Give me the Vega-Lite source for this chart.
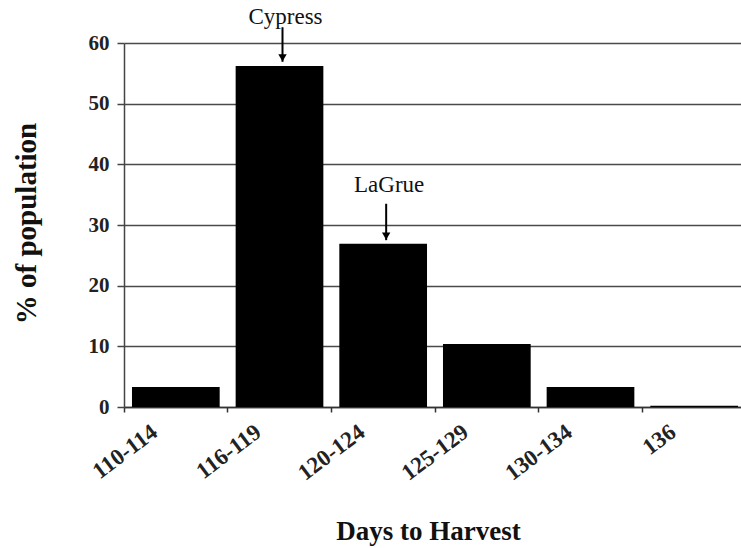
{
  "$schema": "https://vega.github.io/schema/vega-lite/v6.json",
  "width": 622,
  "height": 364,
  "autosize": {"type": "none"},
  "padding": {"left": 124, "top": 43, "right": -5, "bottom": 141},
  "background": "white",
  "config": {
    "view": {"stroke": null},
    "font": "Liberation Serif",
    "axis": {"labelFont": "Liberation Serif", "titleFont": "Liberation Serif"}
  },
  "datasets": {
    "bars": [
      {"days": "110-114", "pct": 3.3},
      {"days": "116-119", "pct": 56.2},
      {"days": "120-124", "pct": 26.9},
      {"days": "125-129", "pct": 10.4},
      {"days": "130-134", "pct": 3.3},
      {"days": "136", "pct": 0.2}
    ],
    "notes": [
      {"days": "116-119", "label": "Cypress", "labelAt": 63.1, "top": 62.6, "tip": 56.9},
      {"days": "120-124", "label": "LaGrue", "labelAt": 35.4, "top": 33.5, "tip": 27.5}
    ]
  },
  "encoding": {
    "x": {
      "field": "days",
      "type": "nominal",
      "scale": {
        "domain": ["110-114", "116-119", "120-124", "125-129", "130-134", "136"],
        "paddingInner": 0.154,
        "paddingOuter": 0.077
      },
      "axis": {
        "title": "Days to Harvest",
        "titleFontSize": 27,
        "titleFontWeight": "bold",
        "titleColor": "#111",
        "titleBaseline": "alphabetic",
        "titleY": 132,
        "titleX": 304,
        "labelAngle": -37,
        "labelAlign": "right",
        "labelBaseline": "middle",
        "labelFontSize": 23,
        "labelFontWeight": "bold",
        "labelColor": "#222",
        "labelOffset": -21,
        "labelPadding": 17,
        "bandPosition": -0.091,
        "tickColor": "#333",
        "tickSize": 5,
        "tickWidth": 1.5,
        "domainColor": "#333",
        "domainWidth": 1.5,
        "grid": false
      }
    }
  },
  "layer": [
    {
      "data": {"name": "bars"},
      "mark": {"type": "bar", "color": "black"},
      "encoding": {
        "y": {
          "field": "pct",
          "type": "quantitative",
          "scale": {"domain": [0, 60], "nice": false},
          "axis": {
            "title": "% of population",
            "titleFontSize": 29,
            "titleFontWeight": "bold",
            "titleColor": "#111",
            "titleBaseline": "alphabetic",
            "titleX": -89,
            "titleY": 180,
            "values": [0, 10, 20, 30, 40, 50, 60],
            "labelFontSize": 21,
            "labelFontWeight": "bold",
            "labelColor": "#222",
            "labelPadding": 8,
            "tickColor": "#444",
            "tickSize": 7,
            "tickWidth": 1.5,
            "domainColor": "#444",
            "domainWidth": 1.5,
            "grid": true,
            "gridColor": "#4a4a4a",
            "gridWidth": 1.5
          }
        }
      }
    },
    {
      "data": {"name": "notes"},
      "mark": {"type": "rule", "color": "black", "strokeWidth": 2, "xOffset": 3},
      "encoding": {
        "y": {"field": "top", "type": "quantitative"},
        "y2": {"field": "tip"}
      }
    },
    {
      "data": {"name": "notes"},
      "mark": {"type": "point", "shape": "triangle-down", "filled": true, "color": "black", "size": 70, "opacity": 1, "yOffset": -4, "xOffset": 3},
      "encoding": {
        "y": {"field": "tip", "type": "quantitative"}
      }
    },
    {
      "data": {"name": "notes"},
      "mark": {"type": "text", "font": "Liberation Serif", "fontSize": 23, "baseline": "alphabetic", "dx": 6, "color": "#111"},
      "encoding": {
        "y": {"field": "labelAt", "type": "quantitative"},
        "text": {"field": "label"}
      }
    }
  ]
}
